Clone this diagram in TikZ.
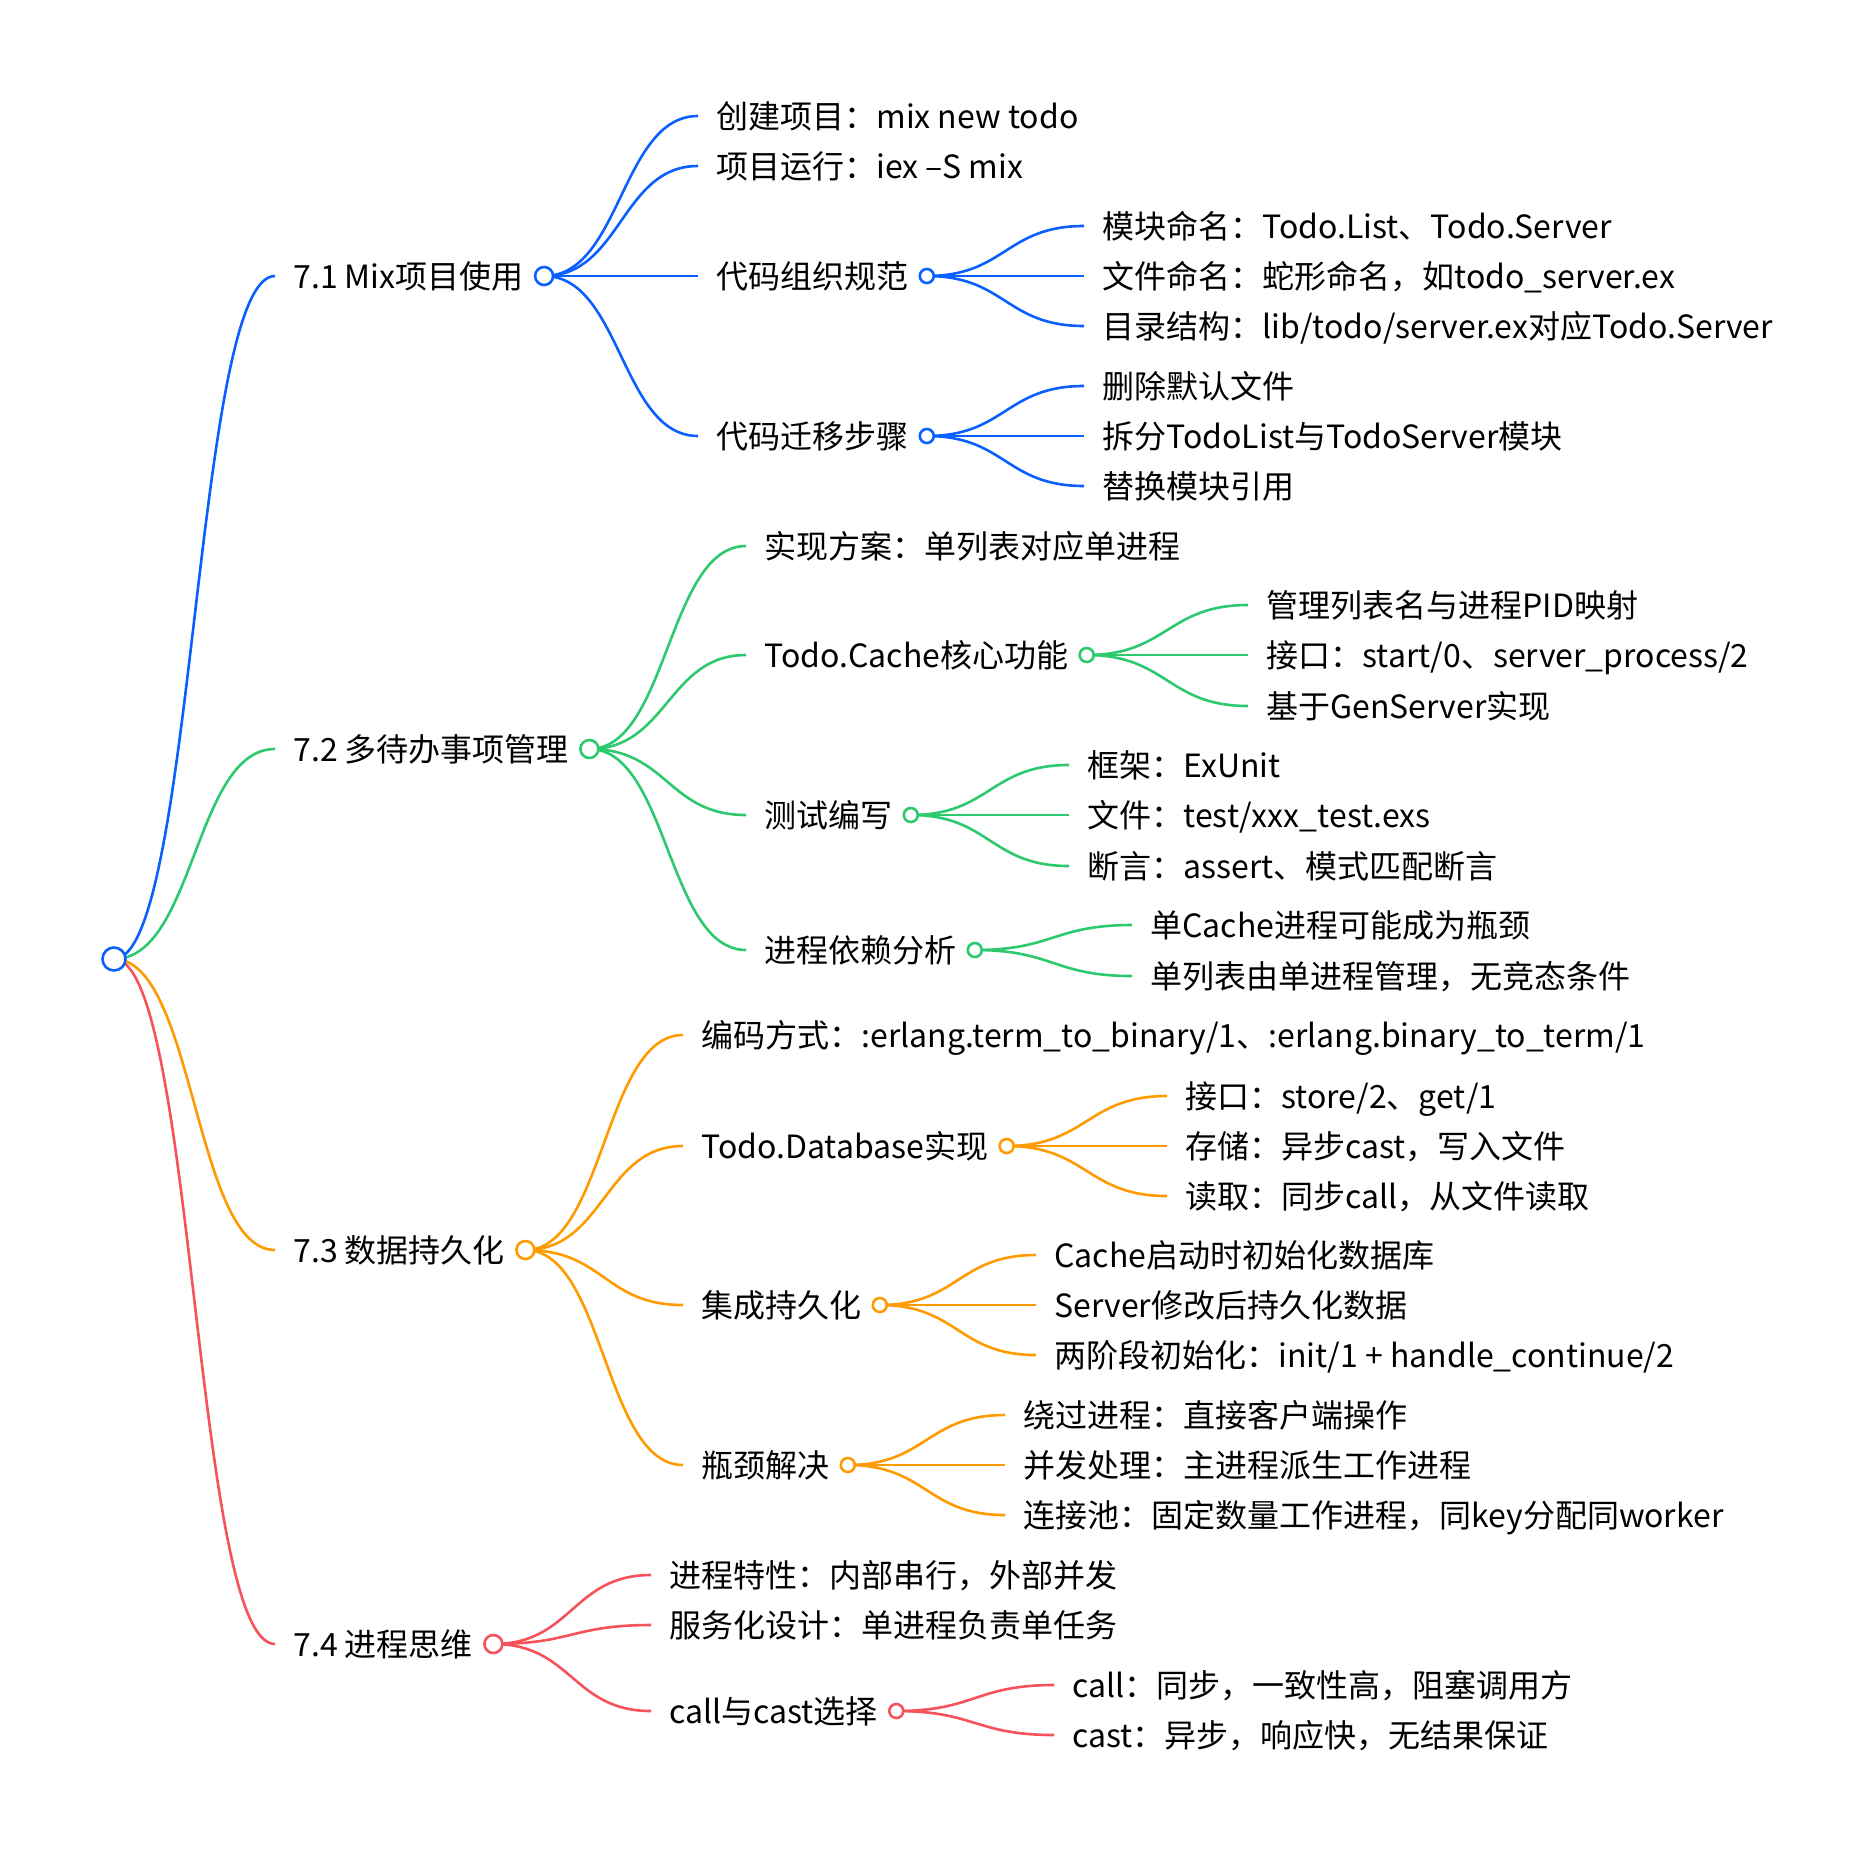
\documentclass[tikz,border=0pt]{standalone}
\usepackage{fontspec}
\setmainfont{Noto Sans CJK SC}
\usetikzlibrary{calc}
\usetikzlibrary{backgrounds}

\definecolor{mapblue}{HTML}{0A5FFF}
\definecolor{mapgreen}{HTML}{2CC96E}
\definecolor{maporange}{HTML}{FF9A00}
\definecolor{mapred}{HTML}{F5525A}

\begin{document}
\begin{tikzpicture}[x=0.5pt, y=-0.5pt,
    leaf/.style={anchor=west, inner xsep=9pt, inner ysep=0pt, text height=13.6pt, text depth=1.6pt, font=\fontsize{16}{19}\selectfont},
    knob/.style={circle, draw=#1, fill=white, line width=1.3pt, inner sep=0pt},
    curvy/.style={line width=1.3pt, to path={let \p1=(\tikztostart), \p2=(\tikztotarget) in
        .. controls ({(\x1+\x2)/2},\y1) and ({(\x1+\x2)/2},\y2) .. (\tikztotarget)}}]
    \useasboundingbox (0,0) rectangle (1872,1852);

    % root
    \node[knob=mapblue, minimum size=11.5pt] (root) at (114,959) {};

    % 7.1 Mix project
    \node[leaf] (t1) at (275,276) {7.1 Mix项目使用};
    \node[knob=mapblue, minimum size=9pt] (c1) at ([xshift=1pt]t1.east) {};
    \foreach \id/\y/\txt in {t11/116/{创建项目：mix new todo}, t12/166/{项目运行：iex –S mix},
        t13/276/代码组织规范, t14/436/代码迁移步骤}
        \node[leaf] (\id) at (698,\y) {\txt};
    \node[knob=mapblue, minimum size=7pt] (c13) at (t13.east) {};
    \node[knob=mapblue, minimum size=7pt] (c14) at (t14.east) {};
    \foreach \id/\y/\txt in {t131/226/{模块命名：Todo.List、Todo.Server}, t132/276/{文件命名：蛇形命名，如todo\_server.ex},
        t133/326/{目录结构：lib/todo/server.ex对应Todo.Server},
        t141/386/删除默认文件, t142/436/拆分TodoList与TodoServer模块, t143/486/替换模块引用}
        \node[leaf] (\id) at (1084,\y) {\txt};

    % 7.2 todo lists
    \node[leaf] (t2) at (275,749) {7.2 多待办事项管理};
    \node[knob=mapgreen, minimum size=9pt] (c2) at ([xshift=1pt]t2.east) {};
    \foreach \id/\y/\txt in {t21/546/{实现方案：单列表对应单进程}, t22/655/Todo.Cache核心功能,
        t23/815/测试编写, t24/950/进程依赖分析}
        \node[leaf] (\id) at (746,\y) {\txt};
    \node[knob=mapgreen, minimum size=7pt] (c22) at (t22.east) {};
    \node[knob=mapgreen, minimum size=7pt] (c23) at (t23.east) {};
    \node[knob=mapgreen, minimum size=7pt] (c24) at (t24.east) {};
    \foreach \id/\y/\txt in {t221/605/管理列表名与进程PID映射, t222/655/{接口：start/0、server\_process/2},
        t223/706/基于GenServer实现}
        \node[leaf] (\id) at (1248,\y) {\txt};
    \foreach \id/\y/\txt in {t231/765/{框架：ExUnit}, t232/815/{文件：test/xxx\_test.exs},
        t233/866/{断言：assert、模式匹配断言}}
        \node[leaf] (\id) at (1069,\y) {\txt};
    \foreach \id/\y/\txt in {t241/925/单Cache进程可能成为瓶颈, t242/976/{单列表由单进程管理，无竞态条件}}
        \node[leaf] (\id) at (1132,\y) {\txt};

    % 7.3 persistence
    \node[leaf] (t3) at (275,1250) {7.3 数据持久化};
    \node[knob=maporange, minimum size=9pt] (c3) at ([xshift=1pt]t3.east) {};
    \foreach \id/\y/\txt in {t31/1035/{编码方式：:erlang.term\_to\_binary/1、:erlang.binary\_to\_term/1},
        t32/1146/Todo.Database实现, t33/1305/集成持久化, t34/1465/瓶颈解决}
        \node[leaf] (\id) at (683,\y) {\txt};
    \node[knob=maporange, minimum size=7pt] (c32) at (t32.east) {};
    \node[knob=maporange, minimum size=7pt] (c33) at (t33.east) {};
    \node[knob=maporange, minimum size=7pt] (c34) at (t34.east) {};
    \foreach \id/\y/\txt in {t321/1096/{接口：store/2、get/1}, t322/1146/{存储：异步cast，写入文件},
        t323/1196/{读取：同步call，从文件读取}}
        \node[leaf] (\id) at (1167,\y) {\txt};
    \foreach \id/\y/\txt in {t331/1255/Cache启动时初始化数据库, t332/1305/Server修改后持久化数据,
        t333/1355/{两阶段初始化：init/1 + handle\_continue/2}}
        \node[leaf] (\id) at (1036,\y) {\txt};
    \foreach \id/\y/\txt in {t341/1415/{绕过进程：直接客户端操作}, t342/1465/{并发处理：主进程派生工作进程},
        t343/1515/{连接池：固定数量工作进程，同key分配同worker}}
        \node[leaf] (\id) at (1005,\y) {\txt};

    % 7.4 process thinking
    \node[leaf] (t4) at (275,1644) {7.4 进程思维};
    \node[knob=mapred, minimum size=9pt] (c4) at ([xshift=1pt]t4.east) {};
    \foreach \id/\y/\txt in {t41/1575/{进程特性：内部串行，外部并发}, t42/1625/{服务化设计：单进程负责单任务},
        t43/1711/call与cast选择}
        \node[leaf] (\id) at (651,\y) {\txt};
    \node[knob=mapred, minimum size=7pt] (c43) at (t43.east) {};
    \foreach \id/\y/\txt in {t431/1685/{call：同步，一致性高，阻塞调用方}, t432/1735/{cast：异步，响应快，无结果保证}}
        \node[leaf] (\id) at (1054,\y) {\txt};

    % connectors, behind the knobs
    \begin{scope}[on background layer]
        \draw[mapblue, curvy] (root.center) to (t1.west);
        \draw[mapgreen, curvy] (root.center) to (t2.west);
        \draw[maporange, curvy] (root.center) to (t3.west);
        \draw[mapred, curvy] (root.center) to (t4.west);
        \foreach \id in {t11,t12,t13,t14} \draw[mapblue, curvy] (c1.center) to (\id.west);
        \foreach \id in {t131,t132,t133} \draw[mapblue, curvy] (c13.center) to (\id.west);
        \foreach \id in {t141,t142,t143} \draw[mapblue, curvy] (c14.center) to (\id.west);
        \foreach \id in {t21,t22,t23,t24} \draw[mapgreen, curvy] (c2.center) to (\id.west);
        \foreach \id in {t221,t222,t223} \draw[mapgreen, curvy] (c22.center) to (\id.west);
        \foreach \id in {t231,t232,t233} \draw[mapgreen, curvy] (c23.center) to (\id.west);
        \foreach \id in {t241,t242} \draw[mapgreen, curvy] (c24.center) to (\id.west);
        \foreach \id in {t31,t32,t33,t34} \draw[maporange, curvy] (c3.center) to (\id.west);
        \foreach \id in {t321,t322,t323} \draw[maporange, curvy] (c32.center) to (\id.west);
        \foreach \id in {t331,t332,t333} \draw[maporange, curvy] (c33.center) to (\id.west);
        \foreach \id in {t341,t342,t343} \draw[maporange, curvy] (c34.center) to (\id.west);
        \foreach \id in {t41,t42,t43} \draw[mapred, curvy] (c4.center) to (\id.west);
        \foreach \id in {t431,t432} \draw[mapred, curvy] (c43.center) to (\id.west);
    \end{scope}
\end{tikzpicture}
\end{document}
